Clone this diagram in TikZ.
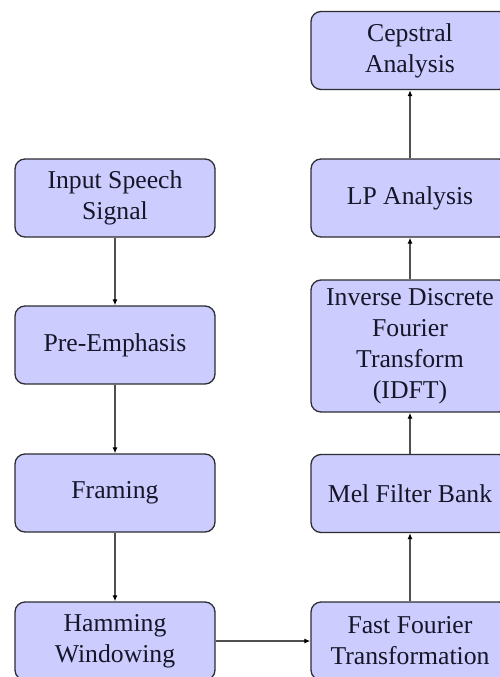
\documentclass[tikz,border=0pt]{standalone}
\usepackage{fontspec}
\setmainfont{Liberation Serif}
\usetikzlibrary{arrows.meta}
\definecolor{boxfill}{RGB}{204,204,255}
\definecolor{boxline}{RGB}{45,45,50}
\definecolor{flowline}{RGB}{80,80,80}
\definecolor{labeltext}{RGB}{22,22,40}
\tikzset{
  stage/.style={draw=boxline, line width=1.3pt, fill=boxfill, rounded corners=10pt,
    minimum width=200pt, minimum height=78pt, inner sep=4pt, align=center,
    text=labeltext, font=\fontsize{25.7}{31}\selectfont},
  rstage/.style={stage, minimum width=198pt},
  flow/.style={draw=flowline, line width=1.2pt,
    -{Latex[length=6pt,width=5pt,color=black]}}
}
\begin{document}
\begin{tikzpicture}[x=1pt,y=-1pt]
  \useasboundingbox (0,0) rectangle (500,677);
  \clip (0,0) rectangle (500,677);
  \fill[white] (0,0) rectangle (500,677);

  % left column: front end
  \node[stage] (input) at (115,198) {Input Speech\\Signal};
  \node[stage] (pre)   at (115,345) {Pre-Emphasis};
  \node[stage] (frame) at (115,493) {Framing};
  \node[stage] (ham)   at (115,641) {Hamming\\Windowing};

  % right column: spectral analysis
  \node[rstage] (fft)  at (410,641) {Fast Fourier\\Transformation};
  \node[rstage] (mel)  at (410,493.5) {Mel Filter Bank};
  \node[rstage, minimum height=132pt] (idft) at (410,346) {Inverse Discrete\\Fourier\\Transform\\(IDFT)};
  \node[rstage] (lp)   at (410,198) {LP Analysis};
  \node[rstage] (cep)  at (410,50.5) {Cepstral\\Analysis};

  % connectors
  \draw[flow] (input) -- (pre);
  \draw[flow] (pre) -- (frame);
  \draw[flow] (frame) -- (ham);
  \draw[flow] (ham) -- (fft);
  \draw[flow] (fft) -- (mel);
  \draw[flow] (mel) -- (idft);
  \draw[flow] (idft) -- (lp);
  \draw[flow] (lp) -- (cep);
\end{tikzpicture}
\end{document}
